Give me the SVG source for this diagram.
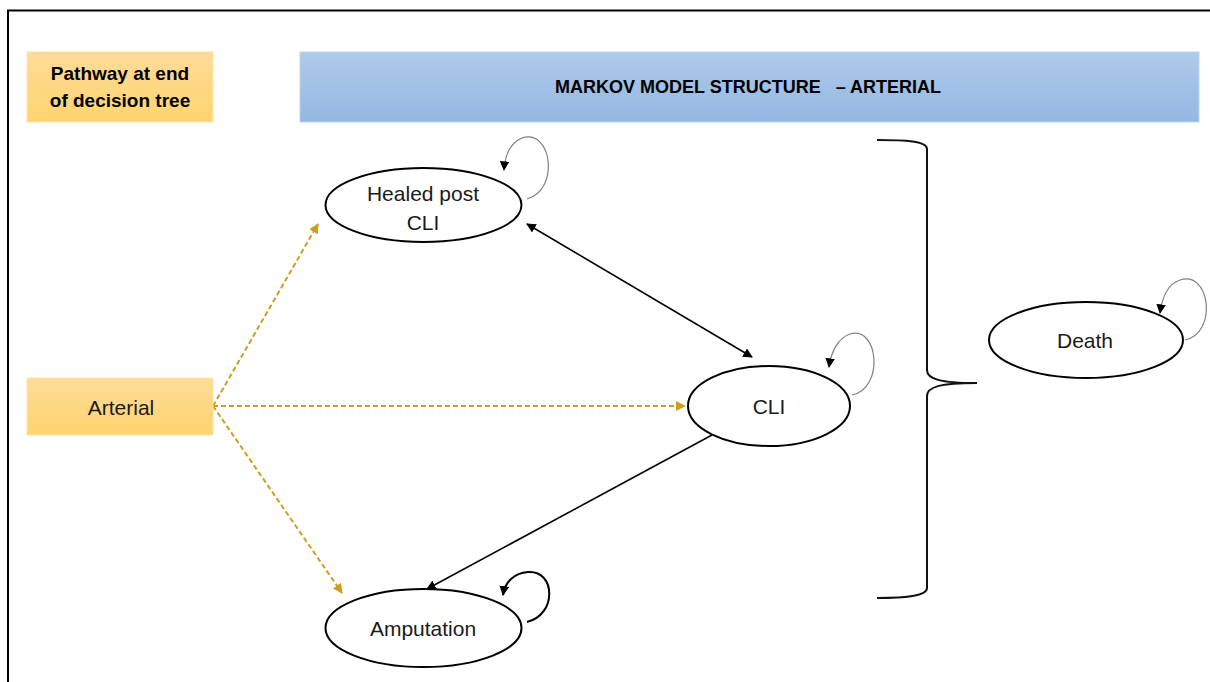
<svg xmlns="http://www.w3.org/2000/svg" width="1210" height="682" viewBox="0 0 1210 682">
<style>
  .lbl { font-family: "Liberation Sans", Arial, sans-serif; font-size: 21px; fill: #1a1a1a; text-anchor: middle; dominant-baseline: central; }
  .bold { font-weight: bold; fill: #000; }
  .hdr { font-size: 19px; }
  .ttl { font-size: 18px; }
  .state { fill: #fff; stroke: #000; stroke-width: 2; }
  .dash { stroke: #CC9E1E; stroke-width: 2; stroke-dasharray: 5 3; fill: none; }
  .solid { stroke: #000; stroke-width: 1.6; fill: none; }
  .loop { stroke: #808080; stroke-width: 1.2; fill: none; }
  .loopb { stroke: #000; stroke-width: 2; fill: none; }
</style>
<defs>
  <linearGradient id="gOrange" x1="0" y1="0" x2="0" y2="1">
    <stop offset="0" stop-color="#FFDB98"/>
    <stop offset="1" stop-color="#FFD46F"/>
  </linearGradient>
  <linearGradient id="gBlue" x1="0" y1="0" x2="0" y2="1">
    <stop offset="0" stop-color="#AFCAEA"/>
    <stop offset="1" stop-color="#94B7E2"/>
  </linearGradient>
  <marker id="aOrange" viewBox="0 0 10 10" refX="9" refY="5" markerWidth="5" markerHeight="5" orient="auto-start-reverse" markerUnits="strokeWidth">
    <path d="M0,0 L10,5 L0,10 z" fill="#CC9E1E"/>
  </marker>
  <marker id="aBlack" viewBox="0 0 10 10" refX="9" refY="5" markerWidth="6" markerHeight="6" orient="auto-start-reverse" markerUnits="strokeWidth">
    <path d="M0,0 L10,5 L0,10 z" fill="#000"/>
  </marker>
  <marker id="aLoop" viewBox="0 0 10 10" refX="9" refY="5" markerWidth="8" markerHeight="8" orient="auto" markerUnits="strokeWidth">
    <path d="M0,0 L10,5 L0,10 z" fill="#000"/>
  </marker>
  <marker id="aLoopB" viewBox="0 0 10 10" refX="9" refY="5" markerWidth="5" markerHeight="5" orient="auto" markerUnits="strokeWidth">
    <path d="M0,0 L10,5 L0,10 z" fill="#000"/>
  </marker>
</defs>
<rect x="0" y="0" width="1210" height="682" fill="#fff"/>
<!-- frame -->
<path d="M8,682 L8,10.5 L1212,10.5" fill="none" stroke="#000" stroke-width="2"/>

<g id="pathway-header">
  <rect x="27" y="52" width="186" height="70" fill="url(#gOrange)" stroke="#FFE3A8" stroke-width="1"/>
  <text class="lbl bold hdr" x="120" y="73">Pathway at end</text>
  <text class="lbl bold hdr" x="120" y="100">of decision tree</text>
</g>
<g id="markov-header">
  <rect x="300" y="52" width="899" height="70" fill="url(#gBlue)" stroke="#BDD4EE" stroke-width="1"/>
  <text class="lbl bold ttl" x="748" y="87" xml:space="preserve">MARKOV MODEL STRUCTURE   – ARTERIAL</text>
</g>

<g id="connectors">
  <line class="dash" x1="213" y1="406" x2="318" y2="224" marker-end="url(#aOrange)"/>
  <line class="dash" x1="213" y1="406" x2="685" y2="406" marker-end="url(#aOrange)"/>
  <line class="dash" x1="213" y1="406" x2="342" y2="593" marker-end="url(#aOrange)"/>
  <line class="solid" x1="527" y1="224" x2="752" y2="357" marker-start="url(#aBlack)" marker-end="url(#aBlack)"/>
  <line class="solid" x1="712" y1="435" x2="427" y2="589" marker-end="url(#aBlack)"/>
  <!-- self loops -->
  <path class="loop" d="M527,199 C560,190 552,128 522,138 C510,143 505,155 504,170" marker-end="url(#aLoop)"/>
  <path class="loop" d="M852,395 C885,388 878,325 850,334 C838,338 831,352 829,367" marker-end="url(#aLoop)"/>
  <path class="loop" d="M1185,340 C1218,333 1210,270 1180,280 C1168,284 1162,298 1160,313" marker-end="url(#aLoop)"/>
  <path class="loopb" d="M527,622 C557,615 556,570 528,572 C514,573 505,582 503,595" marker-end="url(#aLoopB)"/>
  <!-- bracket -->
  <path d="M877,140 C905,140 927,141 927,149 L927,370 C927,379 940,383 977,383 C940,383 927,387 927,396 L927,588 C927,596 905,598 877,598" fill="none" stroke="#111" stroke-width="2"/>
</g>

<g id="arterial">
  <rect x="27" y="378" width="186" height="57" fill="url(#gOrange)" stroke="#FFE3A8" stroke-width="1"/>
  <text class="lbl" x="121" y="407">Arterial</text>
</g>
<g id="healed">
  <ellipse class="state" cx="423.5" cy="205" rx="98" ry="37"/>
  <text class="lbl" x="423" y="193">Healed post</text>
  <text class="lbl" x="423" y="222">CLI</text>
</g>
<g id="cli">
  <ellipse class="state" cx="769" cy="406" rx="81" ry="40"/>
  <text class="lbl" x="769" y="406">CLI</text>
</g>
<g id="amputation">
  <ellipse class="state" cx="423.5" cy="628" rx="98" ry="39"/>
  <text class="lbl" x="423" y="628">Amputation</text>
</g>
<g id="death">
  <ellipse class="state" cx="1086" cy="340" rx="97" ry="38"/>
  <text class="lbl" x="1085" y="340">Death</text>
</g>
</svg>
